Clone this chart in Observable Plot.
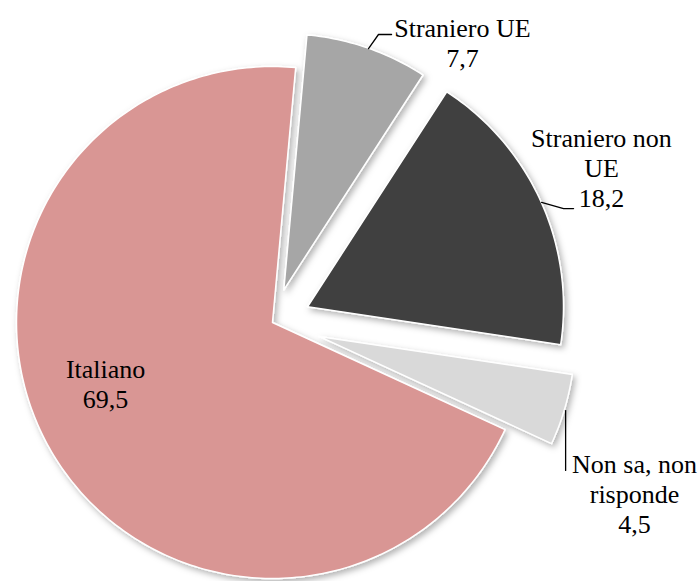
<!DOCTYPE html>
<html><head><meta charset="utf-8">
<script src="https://cdn.jsdelivr.net/npm/d3@7"></script>
<script src="https://cdn.jsdelivr.net/npm/@observablehq/plot@0.6"></script>
<style>body{margin:0;background:#fff}</style>
</head><body><div id="chart"></div>
<script>
// ---- data ----
const categories = ["Straniero UE", "Straniero non UE", "Non sa, non risponde", "Italiano"];
const values = [7.7, 18.2, 4.5, 69.5];
const valueLabels = ["7,7", "18,2", "4,5", "69,5"];
const categoryLabels = ["Straniero UE", "Straniero non\nUE", "Non sa, non\nrisponde", "Italiano"];
const colors = ["#A6A6A6", "#404040", "#D9D9D9", "#D99694"];

// ---- layout (pie units: radius = 1) ----
const W = 700, H = 581, CX = 272, CY = 322, R = 256;
const startDeg = 5.2;
const explode = [0.135, 0.15, 0.19, 0];
const labelPos = [[0.742, 1.094], [1.285, 0.605], [1.414, -0.668], [-0.652, -0.238]];
const leaders = [
  [[0.375, 1.070], [0.414, 1.125], [0.465, 1.125]],
  [[1.051, 0.469], [1.137, 0.445], [1.176, 0.445]],
  [[1.145, -0.344], [1.145, -0.578]],
  null
];
const SERIF = "Liberation Serif, Times New Roman, serif";

const rad = d => d * Math.PI / 180;
const arcs = d3.pie().sort(null).startAngle(rad(startDeg)).endAngle(rad(startDeg + 360))(values);
const slicePts = [];
arcs.forEach((a, i) => {
  const mid = (a.startAngle + a.endAngle) / 2;
  const ox = explode[i] * Math.sin(mid), oy = explode[i] * Math.cos(mid);
  const n = Math.max(4, Math.ceil((a.endAngle - a.startAngle) / rad(1)));
  slicePts.push({cat: categories[i], x: ox, y: oy});
  for (let k = 0; k <= n; k++) {
    const t = a.startAngle + (a.endAngle - a.startAngle) * k / n;
    slicePts.push({cat: categories[i], x: ox + Math.sin(t), y: oy + Math.cos(t)});
  }
  slicePts.push({cat: categories[i], x: ox, y: oy});
});

const leaderPts = [];
leaders.forEach((l, i) => { if (l) l.forEach(p => leaderPts.push({id: i, x: p[0], y: p[1]})); });

const labelData = categories.map((c, i) => ({
  x: labelPos[i][0], y: labelPos[i][1],
  text: categoryLabels[i] + "\n" + valueLabels[i]
}));

const plot = Plot.plot({
  width: W, height: H, margin: 0,
  style: {fontFamily: SERIF},
  x: {domain: [-CX / R, (W - CX) / R], range: [0, W], axis: null},
  y: {domain: [-(H - CY) / R, CY / R], range: [H, 0], axis: null},
  color: {domain: categories, range: colors},
  marks: [
    Plot.line(slicePts, {x: "x", y: "y", z: "cat", fill: "cat", stroke: "white", strokeWidth: 1.5, strokeLinejoin: "round"}),
    Plot.line(leaderPts, {x: "x", y: "y", z: "id", stroke: "black", strokeWidth: 1.3}),
    Plot.text(labelData, {x: "x", y: "y", text: "text", fontSize: 26, lineHeight: 1.14, fontFamily: SERIF, fill: "black", lineAnchor: "middle", textAnchor: "middle"})
  ]
});

const svg = d3.select(plot);
svg.insert("defs", ":first-child").html('<filter id="sh" x="-20%" y="-20%" width="140%" height="140%"><feDropShadow dx="2.5" dy="3" stdDeviation="3" flood-color="#000" flood-opacity="0.3"/></filter>');
svg.selectAll('g[aria-label="line"]').filter((d, i) => i === 0).attr("filter", "url(#sh)");
document.getElementById("chart").appendChild(plot);
</script>
</body></html>
